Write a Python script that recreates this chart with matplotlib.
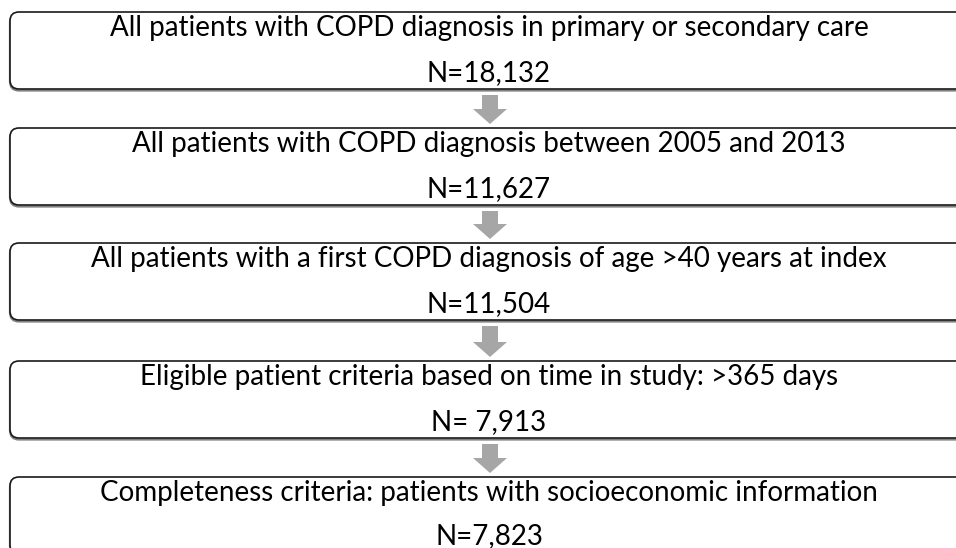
import matplotlib
matplotlib.use("Agg")
import matplotlib.pyplot as plt
from matplotlib.patches import FancyBboxPatch, FancyArrow

# flowchart steps
steps = [
    "All patients with COPD diagnosis in primary or secondary care",
    "All patients with COPD diagnosis between 2005 and 2013",
    "All patients with a first COPD diagnosis of age >40 years at index",
    "Eligible patient criteria based on time in study: >365 days",
    "Completeness criteria: patients with socioeconomic information",
]
counts = ["N=18,132", "N=11,627", "N=11,504", "N= 7,913", "N=7,823"]

plt.rcParams["font.family"] = ["Lato", "DejaVu Sans"]

fig = plt.figure(figsize=(9.56, 5.48), dpi=100)
ax = fig.add_axes([0, 0, 1, 1])
ax.set_xlim(0, 956)
ax.set_ylim(548, 0)
ax.axis("off")

box_tops = [12, 128, 243, 361, 477]
box_h = 77
left, right = 10, 970
cx = 489

for i, (label, n) in enumerate(zip(steps, counts)):
    top = box_tops[i]
    # soft grey shadow under the box
    shadow = FancyBboxPatch((left, top + 1.5), right - left, box_h,
                            boxstyle="round,pad=0,rounding_size=9",
                            facecolor="none", edgecolor="#808080", lw=1.6)
    ax.add_patch(shadow)
    box = FancyBboxPatch((left, top), right - left, box_h,
                         boxstyle="round,pad=0,rounding_size=9",
                         facecolor="white", edgecolor="#1a1a1a", lw=1.2)
    ax.add_patch(box)
    ax.text(cx, top + 16, label, ha="center", va="center", fontsize=20, color="black")
    # last count sits at the cropped bottom edge, nudge it up a hair
    ny = top + 61 if i < len(steps) - 1 else top + 59
    ax.text(cx, ny, n, ha="center", va="center", fontsize=20, color="black")

    if i < len(steps) - 1:
        y0 = top + box_h + 1 + 5
        y1 = box_tops[i + 1] - 4
        ax.add_patch(FancyArrow(cx + 1, y0, 0, y1 - y0, width=16, head_width=34,
                                head_length=15, length_includes_head=True,
                                facecolor="#a6a6a6", edgecolor="none"))

fig.savefig("out.png", dpi=100)
